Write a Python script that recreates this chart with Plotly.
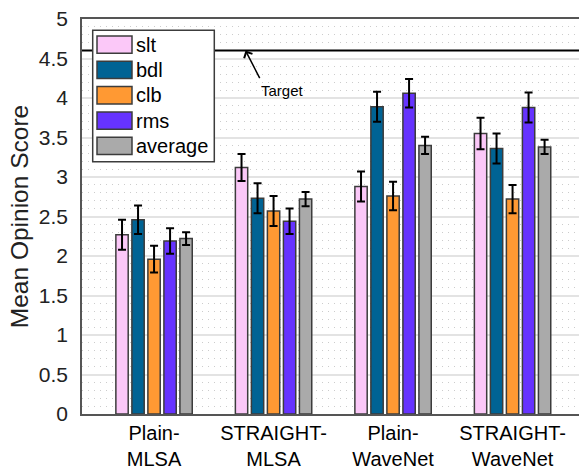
import plotly.graph_objects as go

# ---------------- data ----------------
categories = ["Plain-<br>MLSA", "STRAIGHT-<br>MLSA", "Plain-<br>WaveNet", "STRAIGHT-<br>WaveNet"]
series_names = ["slt", "bdl", "clb", "rms", "average"]

slt = [2.27, 3.12, 2.88, 3.55]
slt_err = [0.19, 0.17, 0.19, 0.20]
bdl = [2.46, 2.73, 3.89, 3.36]
bdl_err = [0.18, 0.19, 0.19, 0.19]
clb = [1.96, 2.57, 2.76, 2.72]
clb_err = [0.17, 0.19, 0.18, 0.18]
rms = [2.19, 2.44, 4.06, 3.88]
rms_err = [0.16, 0.16, 0.18, 0.19]
average = [2.22, 2.72, 3.40, 3.38]
average_err = [0.08, 0.09, 0.11, 0.09]

target_value = 4.6
target_label = "Target"
y_title = "Mean Opinion Score"

values = [slt, bdl, clb, rms, average]
errors = [slt_err, bdl_err, clb_err, rms_err, average_err]
colors = ["#fbc8f8", "#006394", "#ff9933", "#6633ff", "#aaaaaa"]

# ---------------- layout geometry ----------------
W, H = 579, 471
ML, MR, MT, MB = 82, 0, 19, 57
PW = W - ML - MR
PH = H - MT - MB
FONT = "Liberation Sans, Arial, Helvetica, sans-serif"
EDGE = "#3c3c3c"


def px_x(px):
    return (px - ML) / PW


def px_y(py):
    return (H - MB - py) / PH


fig = go.Figure()
for name, vals, errs, col in zip(series_names, values, errors, colors):
    fig.add_trace(go.Bar(
        name=name, x=categories, y=vals,
        marker=dict(color=col, line=dict(color=EDGE, width=1.5)),
        error_y=dict(type="data", array=errs, visible=True, color="black",
                     thickness=2, width=4),
        showlegend=False,
    ))

shapes = []
# target line
shapes.append(dict(type="line", xref="paper", yref="y", x0=0, x1=1,
                   y0=target_value, y1=target_value,
                   line=dict(color="black", width=2), layer="above"))

# custom legend
shapes.append(dict(type="rect", xref="paper", yref="paper",
                   x0=px_x(92.7), x1=px_x(214.3), y0=px_y(161.7), y1=px_y(30.3),
                   fillcolor="white", line=dict(color=EDGE, width=1.5), layer="above"))
annotations = []
row_top = 36.0
row_pitch = 25.3
sw_h = 17.3
for i, (name, col) in enumerate(zip(series_names, colors)):
    t = row_top + i * row_pitch
    shapes.append(dict(type="rect", xref="paper", yref="paper",
                       x0=px_x(97), x1=px_x(132), y0=px_y(t + sw_h), y1=px_y(t),
                       fillcolor=col, line=dict(color=EDGE, width=1.5), layer="above"))
    annotations.append(dict(xref="paper", yref="paper", x=px_x(134), y=px_y(t + sw_h / 2),
                            text=name, showarrow=False, xanchor="left", yanchor="middle",
                            font=dict(size=20, color="black", family=FONT)))

# target annotation (arrow + text)
annotations.append(dict(xref="paper", yref="y", x=px_x(245.5), y=target_value,
                        text="", showarrow=True, axref="pixel", ayref="pixel",
                        ax=15, ay=29, arrowhead=4, arrowsize=1.2, arrowwidth=1.5,
                        arrowcolor="black"))
annotations.append(dict(xref="paper", yref="paper", x=px_x(282.5), y=px_y(91),
                        text=target_label, showarrow=False, xanchor="center", yanchor="middle",
                        font=dict(size=15, color="black", family=FONT)))

fig.update_layout(
    width=W, height=H,
    margin=dict(l=ML, r=MR, t=MT, b=MB, pad=0),
    barmode="group", bargap=0.33, bargroupgap=0.23,
    plot_bgcolor="white", paper_bgcolor="white",
    font=dict(family=FONT, size=20, color="black"),
    shapes=shapes, annotations=annotations,
    showlegend=False,
)
fig.update_xaxes(
    range=[-0.603, 3.556], showgrid=False, showline=True, linecolor="#555555",
    linewidth=1.5, mirror=True, ticks="", tickfont=dict(size=20, color="black"),
    ticklabelstandoff=0, zeroline=False, automargin=False,
)
fig.update_yaxes(
    range=[0, 5], dtick=0.5, tick0=0, showgrid=True, gridcolor="#e3e3e3", gridwidth=2,
    minor=dict(dtick=0.1, showgrid=True, gridcolor="#cccccc", gridwidth=1, griddash="1px,5px"),
    showline=True, linecolor="#555555", linewidth=1.5, ticks="", zeroline=False,
    tickfont=dict(size=21, color="#222222"), ticklabelstandoff=8, automargin=False,
    title=dict(text=y_title, font=dict(size=24.5, color="#222222"), standoff=3),
)

fig.write_html("out.html", config={"displayModeBar": False},
               post_script="document.body.style.margin='0';document.body.style.overflow='hidden';")
